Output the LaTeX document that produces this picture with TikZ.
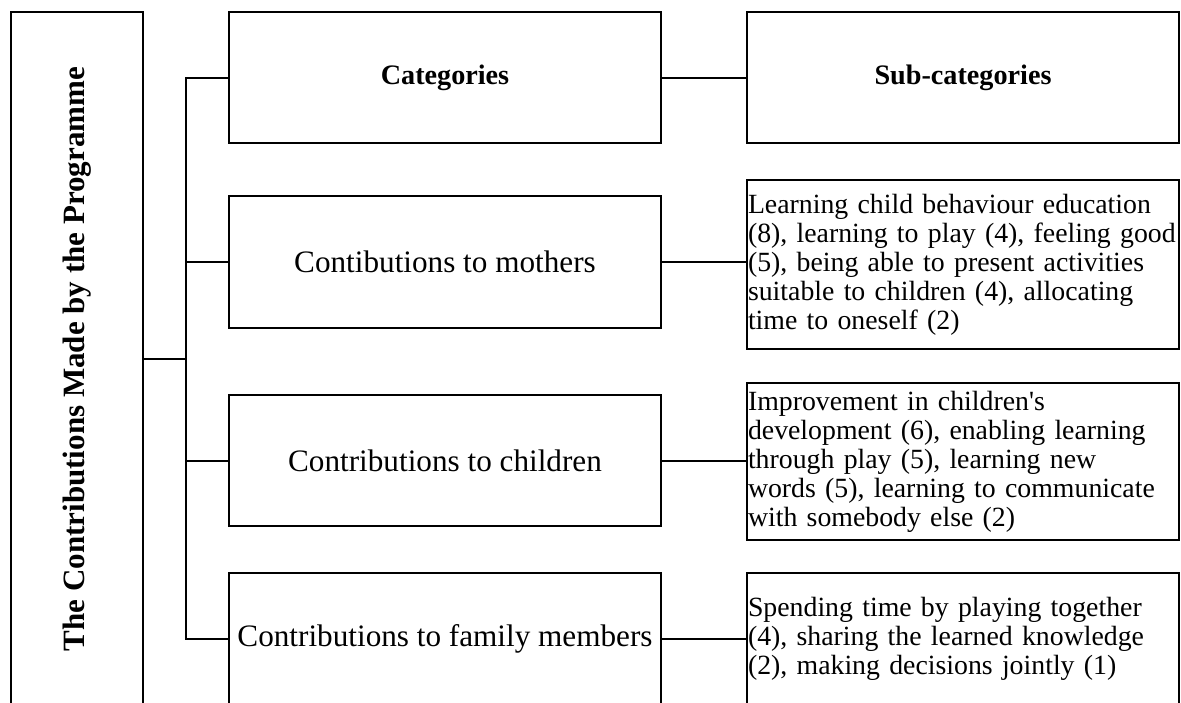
\documentclass[tikz,border=0pt]{standalone}
\usepackage{fontspec}
\setmainfont{Liberation Serif}
\begin{document}
\begin{tikzpicture}[x=1pt,y=-1pt,
  box/.style={draw, line width=2pt, minimum width=432pt, inner sep=0pt, font=\fontsize{31.2}{34}\selectfont},
  head/.style={box, font=\bfseries\fontsize{28.2}{32}\selectfont},
  sub/.style={box, text width=430pt, inner xsep=1pt, align=left, font=\fontsize{27.8}{29}\selectfont},
  conn/.style={line width=2pt}]
\useasboundingbox (0,0) rectangle (1181,702);
\fill[white] (0,0) rectangle (1181,702);
\clip (0,0) rectangle (1181,702);
\node[draw, line width=2pt, rotate=90, minimum width=694pt, minimum height=132pt, inner sep=0pt,
  font=\bfseries\fontsize{31}{36}\selectfont] (t) at (77,359) {The Contributions Made by the Programme};
\node[head, minimum height=131pt] (c0) at (445,77.5) {Categories};
\node[box, minimum height=132pt] (c1) at (445,262) {Contibutions to mothers};
\node[box, minimum height=131pt] (c2) at (445,460.5) {Contributions to children};
\node[box, minimum height=132pt] (c3) at (445,639) {Contributions to family members};
\node[head, minimum height=131pt] (s0) at (963,77.5) {Sub-categories};
\node[sub, minimum height=169pt] (s1) at (963,264.5) {Learning child behaviour education\\(8), learning to play (4), feeling good\\(5), being able to present activities\\suitable to children (4), allocating\\time to oneself (2)};
\node[sub, minimum height=157pt] (s2) at (963,461.5) {Improvement in children\textquotesingle s\\development (6), enabling learning\\through play (5), learning new\\words (5), learning to communicate\\with somebody else (2)};
\node[sub, minimum height=132pt] (s3) at (963,639) {Spending time by playing together\\(4), sharing the learned knowledge\\(2), making decisions jointly (1)};
\coordinate (j) at (186,359);
\draw[conn] (t.south) -- (j);
\draw[conn] (c0.west) -- (c0.west -| j) |- (c3.west);
\draw[conn] (c1.west) -- (c1.west -| j);
\draw[conn] (c2.west) -- (c2.west -| j);
\draw[conn] (c0.east) -- (s0.west);
\draw[conn] (c1.east) -- (c1.east -| s1.west);
\draw[conn] (c2.east) -- (c2.east -| s2.west);
\draw[conn] (c3.east) -- (c3.east -| s3.west);
\end{tikzpicture}
\end{document}
